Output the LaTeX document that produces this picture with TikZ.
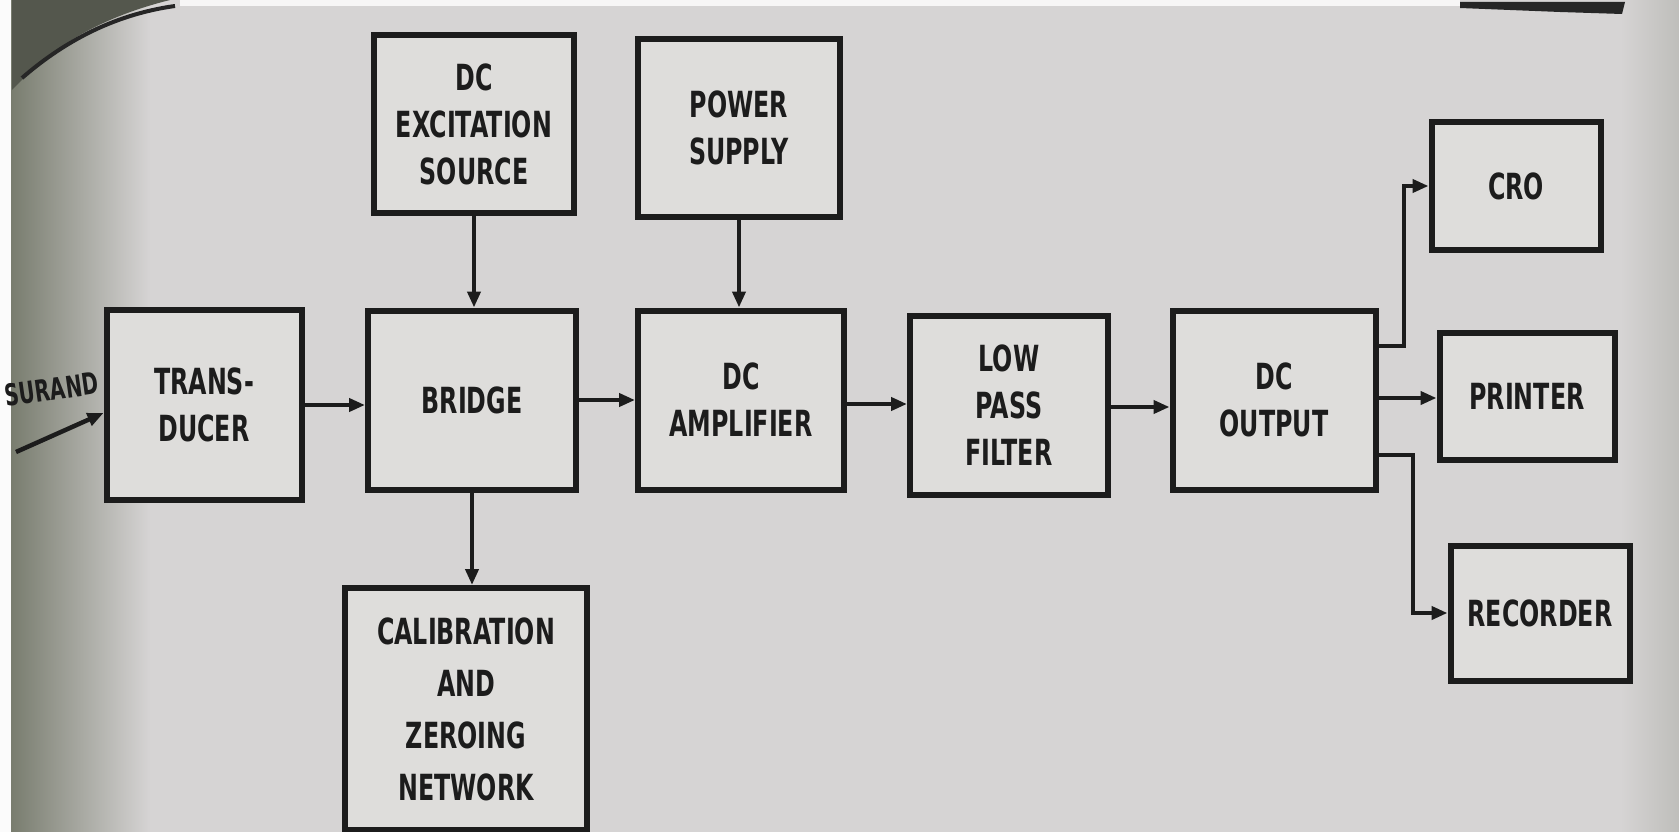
\documentclass[tikz,border=0pt]{standalone}
\usepackage{fontspec}
\setmainfont[FakeStretch=0.66]{DejaVu Sans}
\usetikzlibrary{arrows.meta,calc}
\definecolor{bg}{RGB}{214,212,212}
\definecolor{boxfill}{RGB}{222,221,219}
\definecolor{ink}{RGB}{28,28,28}
\definecolor{leftdark}{RGB}{120,124,110}
\tikzset{
  blk/.style={draw=ink, line width=6pt, fill=boxfill, align=center, inner sep=0pt,
    text=ink, font=\bfseries\fontsize{36}{47}\selectfont},
  arr/.style={draw=ink, line width=4.5pt, -{Triangle[length=16pt,width=13pt]}},
}
\begin{document}
\begin{tikzpicture}[x=1pt,y=-1pt]
\useasboundingbox (0,0) rectangle (1679,832);
\clip (0,0) rectangle (1679,832);
% photo background
\fill[bg] (0,0) rectangle (1679,832);
\shade[left color=leftdark, middle color=bg!45!leftdark, right color=bg] (10,0) rectangle (150,832);
\shade[left color=bg, right color=bg!75!leftdark] (1620,0) rectangle (1679,832);
\fill[white!90!bg] (0,0) rectangle (11,832);
\fill[white!80!bg] (180,0) rectangle (1460,6);
\fill[leftdark!70!black] (12,0) -- (170,0) .. controls (110,15) and (60,40) .. (22,80) -- (12,90) -- cycle;
\draw[line width=4pt, black!85] (22,78) .. controls (60,45) and (110,15) .. (175,6);
\fill[black!85] (1460,2) -- (1625,2) -- (1622,14) -- (1560,12) -- (1460,8) -- cycle;
% blocks
\node[blk, minimum width=195pt, minimum height=190pt] (trans) at (204,405) {TRANS-\\DUCER};
\node[blk, minimum width=200pt, minimum height=177pt] (exc) at (474,124) {DC\\EXCITATION\\SOURCE};
\node[blk, minimum width=208pt, minimum height=179pt] (bridge) at (472,400) {BRIDGE};
\node[blk, minimum width=242pt, minimum height=242pt, font=\bfseries\fontsize{36}{52}\selectfont] (cal) at (466,709) {CALIBRATION\\AND\\ZEROING\\NETWORK};
\node[blk, minimum width=202pt, minimum height=177pt] (ps) at (739,128) {POWER\\SUPPLY};
\node[blk, minimum width=206pt, minimum height=179pt] (amp) at (741,400) {DC\\AMPLIFIER};
\node[blk, minimum width=198pt, minimum height=179pt] (lpf) at (1009,405) {LOW\\PASS\\FILTER};
\node[blk, minimum width=203pt, minimum height=179pt] (out) at (1274,400) {DC\\OUTPUT};
\node[blk, minimum width=169pt, minimum height=127pt] (cro) at (1516,186) {CRO};
\node[blk, minimum width=175pt, minimum height=127pt] (prn) at (1527,396) {PRINTER};
\node[blk, minimum width=179pt, minimum height=135pt] (rec) at (1540,613) {RECORDER};
% input label
\node[anchor=south east, inner sep=0pt, text=ink, rotate=8,
  font=\bfseries\fontsize{30}{36}\selectfont] (meas) at (100,394) {SURAND};
\coordinate (min) at (16,452);
% connectors
\coordinate (a1) at ($(amp.east)+(0,4)$);
\coordinate (l1) at ($(lpf.east)+(0,2)$);
\coordinate (o1) at ($(out.east)+(0,-54)$);
\coordinate (o2) at ($(out.east)+(0,-2)$);
\coordinate (o3) at ($(out.east)+(0,55)$);
\coordinate (j1) at (1404,0);
\coordinate (j2) at (1413,0);
\draw[arr] (min) -- ($(trans.west)+(0,8)$);
\draw[arr] (trans.east) -- (trans.east -| bridge.west);
\draw[arr] (bridge.east) -- (bridge.east -| amp.west);
\draw[arr] (a1) -- (a1 -| lpf.west);
\draw[arr] (l1) -- (l1 -| out.west);
\draw[arr] (exc.south) -- (exc.south |- bridge.north);
\draw[arr] (ps.south) -- (ps.south |- amp.north);
\draw[arr] (bridge.south) -- (bridge.south |- cal.north);
\draw[arr] (o1) -| (j1 |- cro.west) -- (cro.west);
\draw[arr] (o2) -- (o2 -| prn.west);
\draw[arr] (o3) -| (j2 |- rec.west) -- (rec.west);
\end{tikzpicture}
\end{document}
